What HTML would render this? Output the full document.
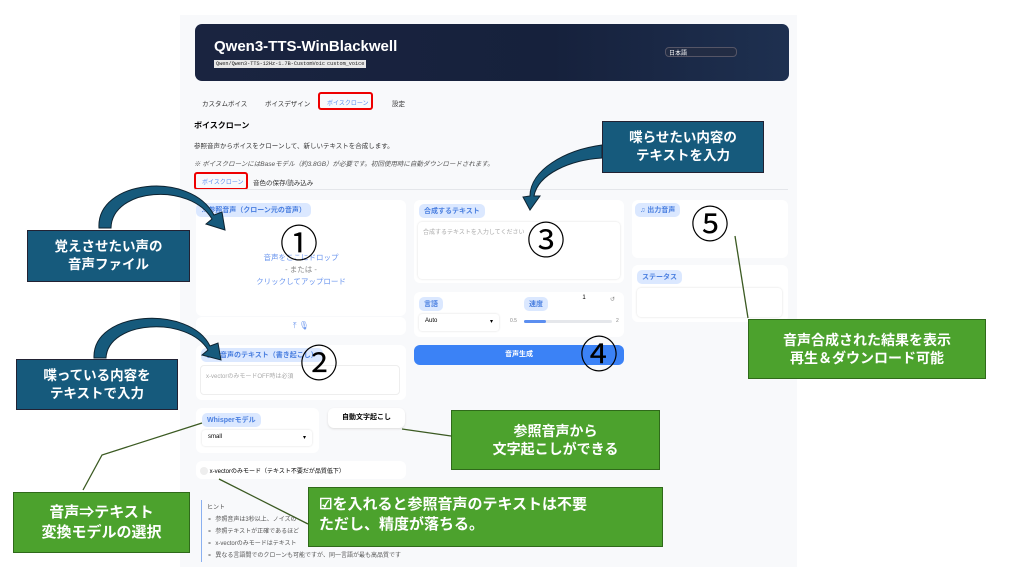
<!DOCTYPE html>
<html><head><meta charset="utf-8"><style>
*{box-sizing:border-box;margin:0;padding:0}
body{width:1024px;height:573px;background:#fff;position:relative;overflow:hidden;font-family:"Liberation Sans","Noto Sans CJK JP",sans-serif}
.a{position:absolute}
.scr{left:180px;top:15px;width:617px;height:552px;background:#f8f9fb}
.hdr{left:195px;top:24px;width:594px;height:57px;border-radius:7px;background:linear-gradient(90deg,#1a2440,#16213c 60%,#1e3050)}
.p{background:#fff;border-radius:6px}
.lb{position:absolute;background:#dbe8ff;color:#4a7fe0;font-size:7px;font-weight:bold;padding:2px 5px;border-radius:5px}
.s{font-size:6.5px;color:#333}
.cb{position:absolute;color:#fff;font-weight:bold;text-align:center;display:flex;align-items:center;justify-content:center;line-height:1.3;border:1.5px solid #223}
.t{background:#165a7c}
.g{background:#4ca22d;border-color:#2f6a1a}
.n{position:absolute;font-size:38px;color:#000;line-height:1}
.red{position:absolute;border:2px solid #e00;border-radius:3px}
.bd{position:absolute;top:60px;background:#e8e8e8;font-size:5.2px;padding:1px 2px;font-family:'Liberation Mono',monospace;color:#222;white-space:nowrap}
</style></head><body>
<div class="a scr"></div>
<div class="a hdr"></div>
<div class="a" style="left:214px;top:38px;color:#fff;font-size:15px;font-weight:bold">Qwen3-TTS-WinBlackwell</div>
<div class="bd" style="left:214px">Qwen/Qwen3-TTS-12Hz-1.7B-CustomVoice</div>
<div class="bd" style="left:325px">custom_voice</div>
<div class="a" style="left:665px;top:47px;width:72px;height:10px;border:1px solid #556;border-radius:4px;background:#222c44;color:#fff;font-size:6px;padding-left:3px">日本語</div>
<div class="a s" style="left:202px;top:98px">カスタムボイス</div>
<div class="a s" style="left:265px;top:98px">ボイスデザイン</div>
<div class="red" style="left:318px;top:92px;width:55px;height:18px"></div>
<div class="a" style="left:327px;top:98px;font-size:6px;color:#5b8ef0">ボイスクローン</div>
<div class="a s" style="left:392px;top:98px">設定</div>
<div class="a" style="left:194px;top:120px;font-size:8px;font-weight:bold">ボイスクローン</div>
<div class="a s" style="left:194px;top:140px;font-size:6.5px">参照音声からボイスをクローンして、新しいテキストを合成します。</div>
<div class="a s" style="left:194px;top:158px;font-size:6.5px;font-style:italic;color:#555">※ ボイスクローンにはBaseモデル（約3.8GB）が必要です。初回使用時に自動ダウンロードされます。</div>
<div class="red" style="left:194px;top:172px;width:54px;height:18px"></div>
<div class="a" style="left:202px;top:177px;font-size:6px;color:#5b8ef0">ボイスクローン</div>
<div class="a s" style="left:253px;top:177px">音色の保存/読み込み</div>
<div class="a" style="left:194px;top:189px;width:594px;height:1px;background:#e4e6ea"></div>

<div class="a p" style="left:196px;top:200px;width:210px;height:116px"><span class="lb" style="left:0;top:3px">♫ 参照音声（クローン元の音声）</span>
<div class="a" style="left:0;top:52px;width:210px;text-align:center;font-size:7.5px;color:#6a95ee;line-height:12px">音声をここにドロップ<br><span style="color:#888">- または -</span><br>クリックしてアップロード</div></div>
<div class="a p" style="left:196px;top:317px;width:210px;height:18px;text-align:center;font-size:8px;color:#6a95ee;line-height:18px">⤒ 🎙</div>
<div class="a p" style="left:196px;top:345px;width:210px;height:55px"><span class="lb" style="left:5px;top:3px">参照音声のテキスト（書き起こし）</span>
<div class="a" style="left:4px;top:20px;width:200px;height:30px;border:1px solid #eee;border-radius:4px;font-size:6px;color:#aaa;padding:5px">x-vectorのみモードOFF時は必須</div></div>
<div class="a p" style="left:196px;top:408px;width:123px;height:45px"><span class="lb" style="left:6px;top:5px">Whisperモデル</span>
<div class="a" style="left:6px;top:22px;width:110px;height:16px;box-shadow:0 0 2px #ddd;border-radius:3px;font-size:6px;padding:4px 6px">small<span style="float:right">▾</span></div></div>
<div class="a p" style="left:328px;top:408px;width:77px;height:20px;box-shadow:0 1px 2px #ddd;font-size:7px;font-weight:bold;text-align:center;line-height:20px">自動文字起こし</div>
<div class="a p" style="left:196px;top:461px;width:210px;height:18px;font-size:6px;padding:5px 4px"><span style="display:inline-block;width:8px;height:8px;border-radius:50%;background:#eee;vertical-align:middle"></span> x-vectorのみモード（テキスト不要だが品質低下）</div>
<div class="a" style="left:201px;top:500px;width:1px;height:62px;background:#8ab0f0"></div>
<div class="a" style="left:207px;top:502px;font-size:6px;color:#555;line-height:12px">ヒント<br>⚬ &nbsp;参照音声は3秒以上、ノイズの<br>⚬ &nbsp;参照テキストが正確であるほど<br>⚬ &nbsp;x-vectorのみモードはテキスト<br>⚬ &nbsp;異なる言語間でのクローンも可能ですが、同一言語が最も高品質です</div>

<div class="a p" style="left:414px;top:200px;width:210px;height:83px"><span class="lb" style="left:5px;top:4px">合成するテキスト</span>
<div class="a" style="left:4px;top:22px;width:202px;height:57px;box-shadow:0 0 2px #ddd;border-radius:4px;font-size:6px;color:#aaa;padding:5px">合成するテキストを入力してください</div></div>
<div class="a p" style="left:414px;top:292px;width:210px;height:45px"><span class="lb" style="left:5px;top:5px">言語</span><span class="lb" style="left:110px;top:5px">速度</span>
<div class="a" style="left:150px;top:3px;width:40px;height:12px;font-size:6px;text-align:center">1</div><div class="a" style="left:196px;top:4px;font-size:6px;color:#888">↺</div>
<div class="a" style="left:5px;top:22px;width:80px;height:17px;box-shadow:0 0 2px #ddd;border-radius:3px;font-size:6px;padding:4px 6px">Auto<span style="float:right">▾</span></div>
<div class="a" style="left:96px;top:26px;font-size:5px;color:#888">0.5</div>
<div class="a" style="left:110px;top:28px;width:88px;height:3px;background:#e5e7eb;border-radius:2px"><div style="width:22px;height:3px;background:#5b8ef0;border-radius:2px"></div></div>
<div class="a" style="left:202px;top:26px;font-size:5px;color:#888">2</div></div>
<div class="a" style="left:414px;top:345px;width:210px;height:20px;background:#3b82f6;border-radius:6px;color:#fff;font-size:7px;font-weight:bold;text-align:center;line-height:20px">音声生成</div>

<div class="a p" style="left:632px;top:200px;width:156px;height:58px"><span class="lb" style="left:3px;top:3px">♫ 出力音声</span></div>
<div class="a p" style="left:632px;top:265px;width:156px;height:57px"><span class="lb" style="left:5px;top:5px">ステータス</span>
<div class="a" style="left:5px;top:23px;width:145px;height:29px;box-shadow:0 0 2px #ddd;border-radius:4px"></div></div>

<div class="n" style="left:280px;top:226px">①</div>
<div class="n" style="left:300px;top:346px">②</div>
<div class="n" style="left:527px;top:223px">③</div>
<div class="n" style="left:580px;top:337px">④</div>
<div class="n" style="left:691px;top:207px">⑤</div>

<svg class="a" style="left:0;top:0" width="1024" height="573">
<g fill="none" stroke="#3b5a22" stroke-width="1.3">
<polyline points="83,490 102,455 202,423"/>
<line x1="748" y1="318" x2="735" y2="236"/>
<line x1="451" y1="436" x2="402" y2="429"/>
<line x1="308" y1="524" x2="219" y2="479"/>
</g>
<g fill="#165a7c" stroke="#0d2230" stroke-width="1">
<path d="M99,228 C96,180 190,170 214,215 L222,212 L225,230 L206,224 L212,219 C190,182 112,188 111,228 Z"/>
<path d="M94,358 C92,310 190,305 210,346 L218,343 L221,360 L202,355 L208,350 C188,316 108,320 106,358 Z"/>
<path d="M602,145 C565,150 530,170 530,196 L523,197 L530,210 L540,196 L534,196 C538,174 570,160 602,158 Z"/>
</g>
</svg>

<div class="cb t" style="left:27px;top:230px;width:163px;height:52px;font-size:13.5px">覚えさせたい声の<br>音声ファイル</div>
<div class="cb t" style="left:16px;top:359px;width:162px;height:51px;font-size:13.5px">喋っている内容を<br>テキストで入力</div>
<div class="cb t" style="left:602px;top:121px;width:162px;height:52px;font-size:13.5px">喋らせたい内容の<br>テキストを入力</div>
<div class="cb g" style="left:748px;top:319px;width:238px;height:60px;font-size:14px">音声合成された結果を表示<br>再生＆ダウンロード可能</div>
<div class="cb g" style="left:451px;top:410px;width:209px;height:60px;font-size:14px">参照音声から<br>文字起こしができる</div>
<div class="cb g" style="left:308px;top:487px;width:355px;height:60px;font-size:15px;text-align:left;justify-content:flex-start;padding-left:10px;display:block;padding-top:7px">☑を入れると参照音声のテキストは不要<br>ただし、精度が落ちる。</div>
<div class="cb g" style="left:13px;top:492px;width:177px;height:61px;font-size:15px">音声⇒テキスト<br>変換モデルの選択</div>
</body></html>
